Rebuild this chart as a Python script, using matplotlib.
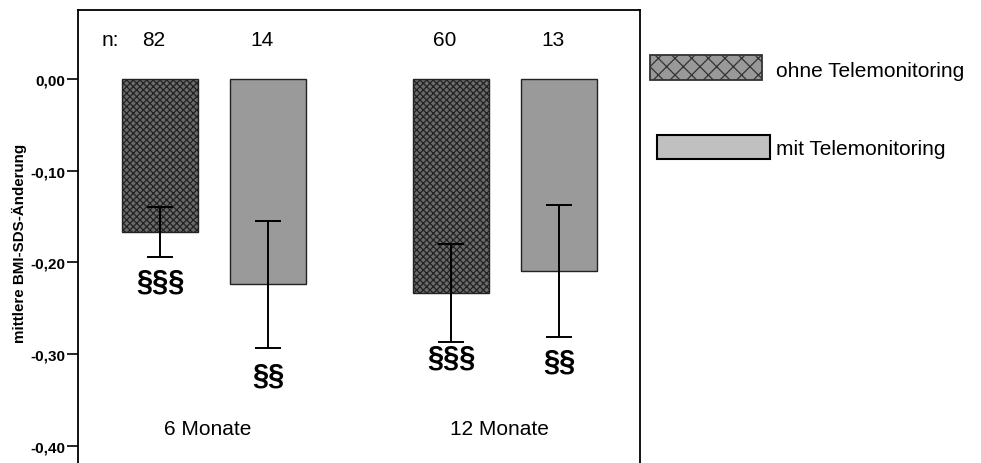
import matplotlib
matplotlib.use("Agg")
import matplotlib.pyplot as plt
from matplotlib.patches import Rectangle

plt.rcParams['font.family'] = ['Liberation Sans', 'DejaVu Sans']
plt.rcParams['hatch.linewidth'] = 0.9

# Data
periods = ["6 Monate", "12 Monate"]
groups = ["ohne Telemonitoring", "mit Telemonitoring"]
means_ohne = [-0.167, -0.233]
means_mit = [-0.224, -0.210]
err_ohne = [0.0275, 0.0535]
err_mit = [0.069, 0.072]
n_ohne = [82, 60]
n_mit = [14, 13]
sig_ohne = ["§§§", "§§§"]
sig_mit = ["§§", "§§"]
sig_y_ohne = [-0.220, -0.303]
sig_y_mit = [-0.322, -0.3075]
yticks = [0.0, -0.1, -0.2, -0.3, -0.4]
ytick_labels = ["0,00", "-0,10", "-0,20", "-0,30", "-0,40"]

W, H = 981, 464
fig = plt.figure(figsize=(W / 100, H / 100), dpi=100)
ax = fig.add_axes([78 / W, 0, (640 - 78) / W, 1 - 11 / H])

width = 0.261
offset = 0.1856
x = [0, 1]
x_ohne = [xi - offset for xi in x]
x_mit = [xi + offset for xi in x]

ax.bar(x_ohne, means_ohne, width, color='#6a6a6a', edgecolor='#222222',
       hatch='xxxxx', linewidth=1.0, zorder=2)
ax.bar(x_mit, means_mit, width, color='#9a9a9a', edgecolor='#222222',
       linewidth=1.0, zorder=2)

ebkw = dict(fmt='none', ecolor='black', elinewidth=1.4, capsize=9.5,
            capthick=1.4, zorder=3)
ax.errorbar(x_ohne, means_ohne, yerr=err_ohne, **ebkw)
ax.errorbar(x_mit, means_mit, yerr=err_mit, **ebkw)

fs = 15
# sample sizes
ax.text(-0.385, 0.037, "n:", fontsize=fs, ha='left', va='baseline')
for xo, xm, no, nm in zip(x_ohne, x_mit, n_ohne, n_mit):
    ax.text(xo - 0.02, 0.037, str(no), fontsize=fs, ha='center', va='baseline')
    ax.text(xm - 0.02, 0.037, str(nm), fontsize=fs, ha='center', va='baseline')

# significance marks
for xo, xm, so, sm, yo, ym in zip(x_ohne, x_mit, sig_ohne, sig_mit, sig_y_ohne, sig_y_mit):
    ax.text(xo, yo, so, fontsize=21, fontweight='bold', ha='center', va='center')
    ax.text(xm, ym, sm, fontsize=21, fontweight='bold', ha='center', va='center')

# period labels
for xi, p in zip(x, periods):
    ax.text(xi - 0.02, -0.387, p, fontsize=fs, ha='center', va='baseline')

ax.set_xlim((78 - 214) / 291, (640 - 214) / 291)
ax.set_ylim(-0.419, 0.0753)
ax.set_xticks([])
ax.set_yticks(yticks)
ax.set_yticklabels(ytick_labels, fontsize=11, fontweight='bold')
ax.tick_params(axis='y', direction='out', length=8, width=1.2, pad=1)
for s in ['left', 'right', 'top']:
    ax.spines[s].set_linewidth(1.3)
ax.spines['bottom'].set_visible(False)

fig.text(19 / W, 1 - 243 / H, "mittlere BMI-SDS-Änderung", rotation=90,
         fontsize=10.9, fontweight='bold', ha='center', va='center')

# legend
fig.add_artist(Rectangle((650 / W, 1 - 81 / H), 112 / W, 25 / H,
                         transform=fig.transFigure, facecolor='#999999',
                         edgecolor='#333333', hatch='xx', linewidth=1.3))
fig.add_artist(Rectangle((657 / W, 1 - 160 / H), 113 / W, 24 / H,
                         transform=fig.transFigure, facecolor='#c0c0c0',
                         edgecolor='black', linewidth=1.5))
fig.text(776 / W, 1 - 77 / H, groups[0], fontsize=fs, ha='left', va='baseline')
fig.text(776 / W, 1 - 155 / H, groups[1], fontsize=fs, ha='left', va='baseline')

fig.savefig("out.png", dpi=100)
